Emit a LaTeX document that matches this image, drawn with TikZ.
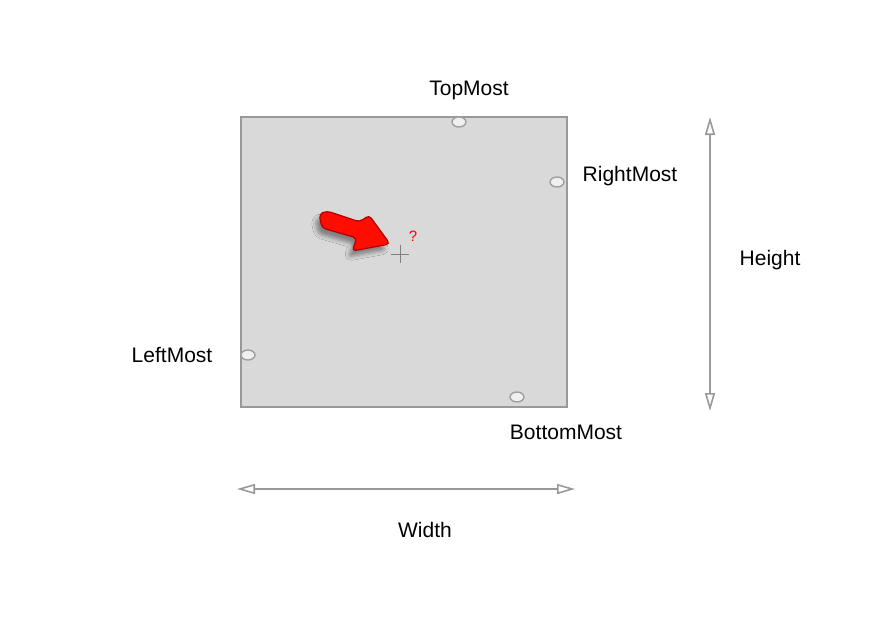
\documentclass[tikz,border=0pt]{standalone}
\usepackage{fontspec}
\setmainfont{Liberation Sans}
\usetikzlibrary{arrows.meta,shadows.blur}
\begin{document}
\begin{tikzpicture}[x=1pt,y=-1pt,
  lbl/.style={font=\fontsize{21}{24}\selectfont,inner sep=0pt},
  dim/.style={draw=gray!80,line width=1.6pt,{Triangle[open,length=18pt,width=10pt]}-{Triangle[open,length=18pt,width=10pt]}},
  pt/.style={draw=gray!75,fill=gray!12,line width=1.4pt}]
\useasboundingbox (0,0) rectangle (890,618);
\node[draw=gray!80,fill=gray!30,line width=1.2pt,minimum width=326pt,minimum height=290pt,inner sep=0pt] (box) at (404,262) {};
\draw[pt] (459,122) ellipse (7 and 5);
\draw[pt] (557,182) ellipse (7 and 5);
\draw[pt] (248,355) ellipse (7 and 5);
\draw[pt] (517,397) ellipse (7 and 5);
\draw[gray,line width=1pt] (391,254) -- (409,254) (400,245) -- (400,263);
\node[text=red,font=\fontsize{15}{18}\selectfont] (q) at (413,236) {?};
\fill[red!90!orange,draw=red!70!black,line width=1.2pt,rounded corners=4pt,blur shadow={shadow xshift=-4pt,shadow yshift=-6pt,shadow blur radius=4pt}]
  (319,214) -- (327,211) -- (360,222) -- (369,215) -- (390,244) -- (352,251) -- (357,238) -- (322,228) -- cycle;
\node[lbl] (top) at (469,90) {TopMost};
\node[lbl] (right) at (630,176) {RightMost};
\node[lbl] (left) at (172,355) {LeftMost};
\node[lbl] (bottom) at (566,432) {BottomMost};
\node[lbl] (height) at (770,260) {Height};
\node[lbl] (width) at (425,530) {Width};
\coordinate (h1) at (710,117); \coordinate (h2) at (710,411);
\coordinate (w1) at (237,489); \coordinate (w2) at (575,489);
\draw[dim] (h1) -- (h2);
\draw[dim] (w1) -- (w2);
\end{tikzpicture}
\end{document}
